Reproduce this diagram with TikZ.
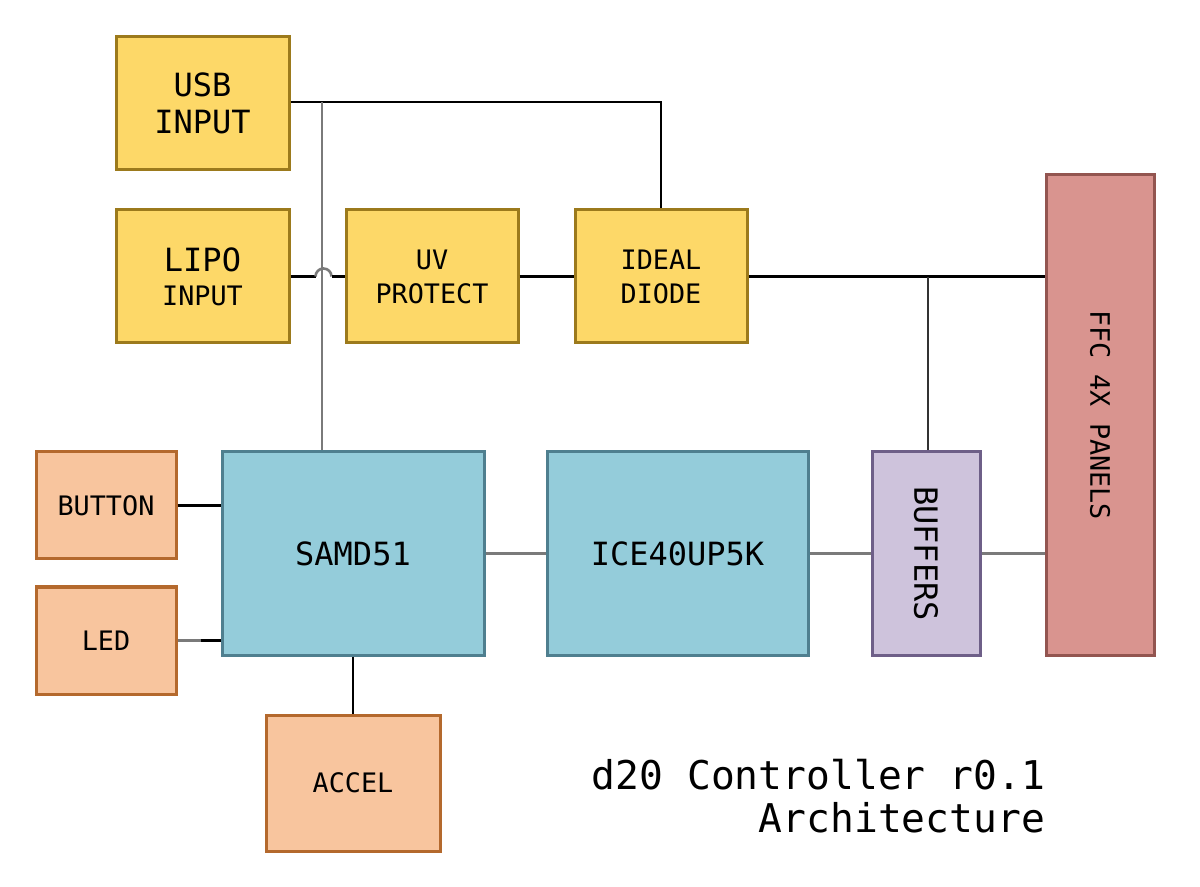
\documentclass[tikz,border=0pt]{standalone}
\usepackage{fontspec}
\usetikzlibrary{calc}
\newfontfamily\monof{DejaVu Sans Mono}
\definecolor{yfill}{HTML}{FDD868}
\definecolor{ydraw}{HTML}{9C7A1C}
\definecolor{ofill}{HTML}{F8C59E}
\definecolor{odraw}{HTML}{B4692D}
\definecolor{bfill}{HTML}{94CCDA}
\definecolor{bdraw}{HTML}{4F7F8F}
\definecolor{pfill}{HTML}{CEC3DC}
\definecolor{pdraw}{HTML}{6E5F88}
\definecolor{rfill}{HTML}{D9948F}
\definecolor{rdraw}{HTML}{935550}
\definecolor{wgray}{HTML}{7A7A7A}
\definecolor{wdark}{HTML}{333333}
\tikzset{
  box/.style={draw, line width=1.5pt, inner sep=0pt, align=center},
  ybox/.style={box, fill=yfill, draw=ydraw},
  obox/.style={box, fill=ofill, draw=odraw},
  bbox/.style={box, fill=bfill, draw=bdraw},
  pbox/.style={box, fill=pfill, draw=pdraw},
  rbox/.style={box, fill=rfill, draw=rdraw},
  big/.style={font=\monof\fontsize{16}{18.5}\selectfont},
  small/.style={font=\monof\fontsize{13.4}{17}\selectfont},
  wire/.style={line width=1.3pt, draw=black},
  gwire/.style={line width=1.3pt, draw=wgray},
  dwire/.style={line width=1.3pt, draw=wdark},
}
\begin{document}
\begin{tikzpicture}[x=0.5pt,y=-0.5pt]
\useasboundingbox (0,0) rectangle (1200,887);
% nodes
\node[ybox, minimum width=86.5pt, minimum height=66.5pt, big] (usb) at (202.5,103.5) {USB\\INPUT};
\node[ybox, minimum width=86.5pt, minimum height=66.5pt, small] (lipo) at (202.5,276.5) {{\fontsize{16}{17}\selectfont LIPO}\\INPUT};
\node[ybox, minimum width=86pt, minimum height=66.5pt, small] (uv) at (432,276.5) {UV\\PROTECT};
\node[ybox, minimum width=86pt, minimum height=66.5pt, small] (ideal) at (661,276.5) {IDEAL\\DIODE};
\node[rbox, minimum width=54pt, minimum height=240pt] (ffc) at (1100,415) {};
\node[small, rotate=-90] (ffct) at (ffc.center) {FFC 4X PANELS};
\node[obox, minimum width=70pt, minimum height=53.5pt, small] (button) at (106,505.5) {BUTTON};
\node[obox, minimum width=70pt, minimum height=53.5pt, small] (led) at (106,640.5) {LED};
\node[bbox, minimum width=131pt, minimum height=101.5pt, big] (samd) at (353,553.5) {SAMD51};
\node[bbox, minimum width=130.5pt, minimum height=101.5pt, big] (ice) at (677.5,553.5) {ICE40UP5K};
\node[pbox, minimum width=54pt, minimum height=101.5pt] (buf) at (926,553.5) {};
\node[big, rotate=-90] (buft) at (buf.center) {BUFFERS};
\node[obox, minimum width=87pt, minimum height=68pt, small] (accel) at (353,783) {ACCEL};
\node[anchor=north east, align=right, font=\monof\fontsize{19.8}{21.5}\selectfont] (title) at (1052,752) {d20 Controller r0.1\\Architecture};
% wires
\coordinate (j1) at (322,102);
\coordinate (j2) at (928,277);
\draw[wire] (usb.east |- j1) -- (j1);
\draw[wire] (j1) -| (ideal.north);
\draw[gwire] (j1) -- (samd.north -| j1);
\draw[wire] (lipo.east) -- ++(25,0);
\draw[gwire] ($(lipo.east)+(25,0)$) arc[start angle=180,end angle=360,radius=8];
\draw[wire] ($(lipo.east)+(41,0)$) -- (uv.west);
\draw[wire] (uv.east) -- (ideal.west);
\draw[wire] (ideal.east) -- (ffc.west |- ideal.east);
\draw[dwire] (j2) -- (buf.north -| j2);
\draw[wire] (button.east) -- (samd.west |- button.east);
\draw[gwire] (led.east) -- ++(23,0);
\draw[wire] ($(led.east)+(23,0)$) -- (samd.west |- led.east);
\draw[wire] (samd.south) -- (accel.north);
\draw[gwire] (samd.east) -- (ice.west);
\draw[gwire] (ice.east) -- (buf.west);
\draw[gwire] (buf.east) -- (ffc.west |- buf.east);
\end{tikzpicture}
\end{document}
